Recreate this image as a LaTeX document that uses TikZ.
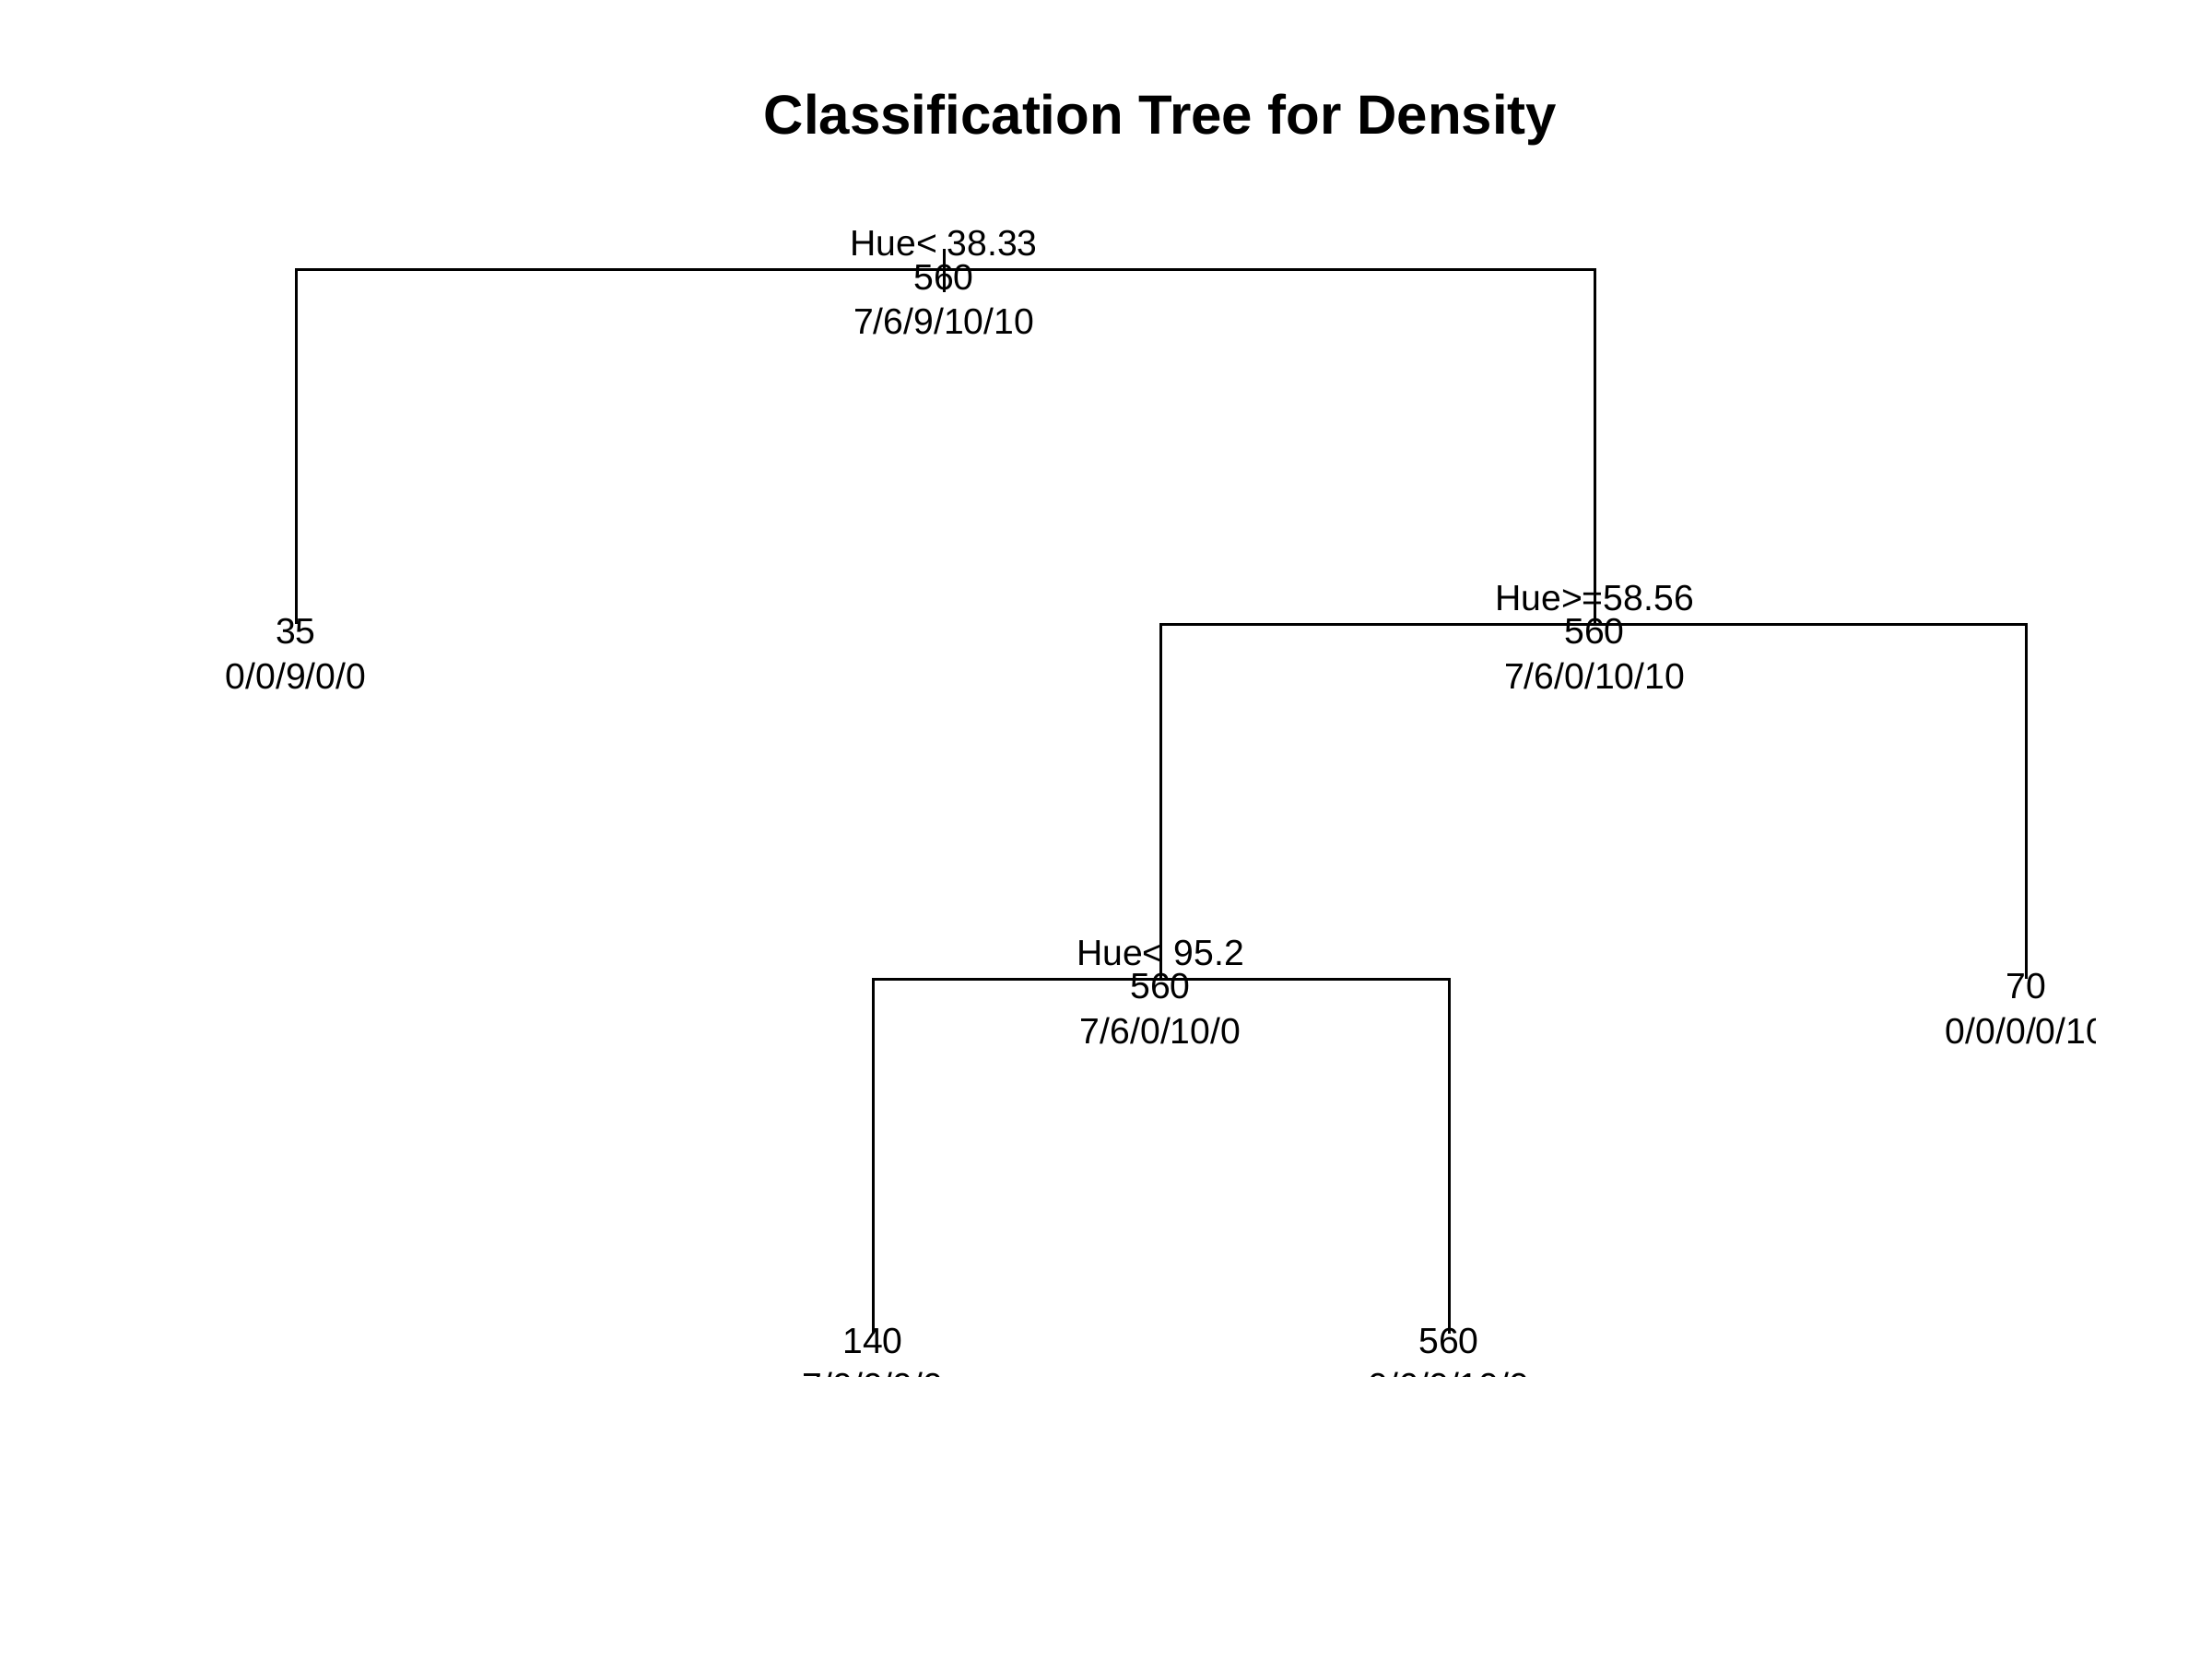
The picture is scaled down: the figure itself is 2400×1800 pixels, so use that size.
\documentclass[tikz,border=0pt]{standalone}
\usepackage{fontspec}
\setmainfont{Liberation Sans}
\begin{document}
\begin{tikzpicture}[x=0.3pt,y=-0.3pt,
  treeline/.style={line width=0.9pt,line cap=butt},
  lab/.style={anchor=base,inner sep=0pt,font=\fontsize{11.75}{14}\selectfont},
  titlestyle/.style={anchor=base,inner sep=0pt,font=\fontsize{18}{21.5}\selectfont\bfseries}]
\useasboundingbox (0,0) rectangle (2400,1800);
\node[titlestyle] (title) at (1259,145) {Classification Tree for Density};
% tree node positions
\coordinate (root) at (1024,292);
\coordinate (leafA) at (321,677);
\coordinate (nodeB) at (1730,677);
\coordinate (nodeC) at (1259,1062);
\coordinate (leafD) at (2198,1062);
\coordinate (leafE) at (947,1447);
\coordinate (leafF) at (1572,1447);
\coordinate (roottop) at (1024,270);
\coordinate (rootbot) at (1024,317);
\begin{scope}
\clip (0,150) rectangle (2273,1493);
% connectors
\draw[treeline] (roottop) -- (rootbot);
\draw[treeline] (leafA) |- (root) -| (nodeB);
\draw[treeline] (nodeC) |- (nodeB) -| (leafD);
\draw[treeline] (leafE) |- (nodeC) -| (leafF);
% labels
\node[lab] (rootsplit) at ([yshift=4.5pt]root) {Hue< 38.33};
\node[lab] (rootn) at ([yshift=-6.6pt]root) {560};
\node[lab] (rootc) at ([yshift=-21.2pt]root) {7/6/9/10/10};
\node[lab] (leafAn) at ([yshift=-6.3pt]leafA) {35};
\node[lab] (leafAc) at ([yshift=-21.2pt]leafA) {0/0/9/0/0};
\node[lab] (nodeBsplit) at ([yshift=4.5pt]nodeB) {Hue>=58.56};
\node[lab] (nodeBn) at ([yshift=-6.3pt]nodeB) {560};
\node[lab] (nodeBc) at ([yshift=-21.2pt]nodeB) {7/6/0/10/10};
\node[lab] (nodeCsplit) at ([yshift=4.5pt]nodeC) {Hue< 95.2};
\node[lab] (nodeCn) at ([yshift=-6.3pt]nodeC) {560};
\node[lab] (nodeCc) at ([yshift=-21.2pt]nodeC) {7/6/0/10/0};
\node[lab] (leafDn) at ([yshift=-6.3pt]leafD) {70};
\node[lab] (leafDc) at ([yshift=-21.2pt]leafD) {0/0/0/0/10};
\node[lab] (leafEn) at ([yshift=-6.3pt]leafE) {140};
\node[lab] (leafEc) at ([yshift=-21.2pt]leafE) {7/0/0/0/0};
\node[lab] (leafFn) at ([yshift=-6.3pt]leafF) {560};
\node[lab] (leafFc) at ([yshift=-21.2pt]leafF) {0/6/0/10/0};
\end{scope}
\end{tikzpicture}
\end{document}
